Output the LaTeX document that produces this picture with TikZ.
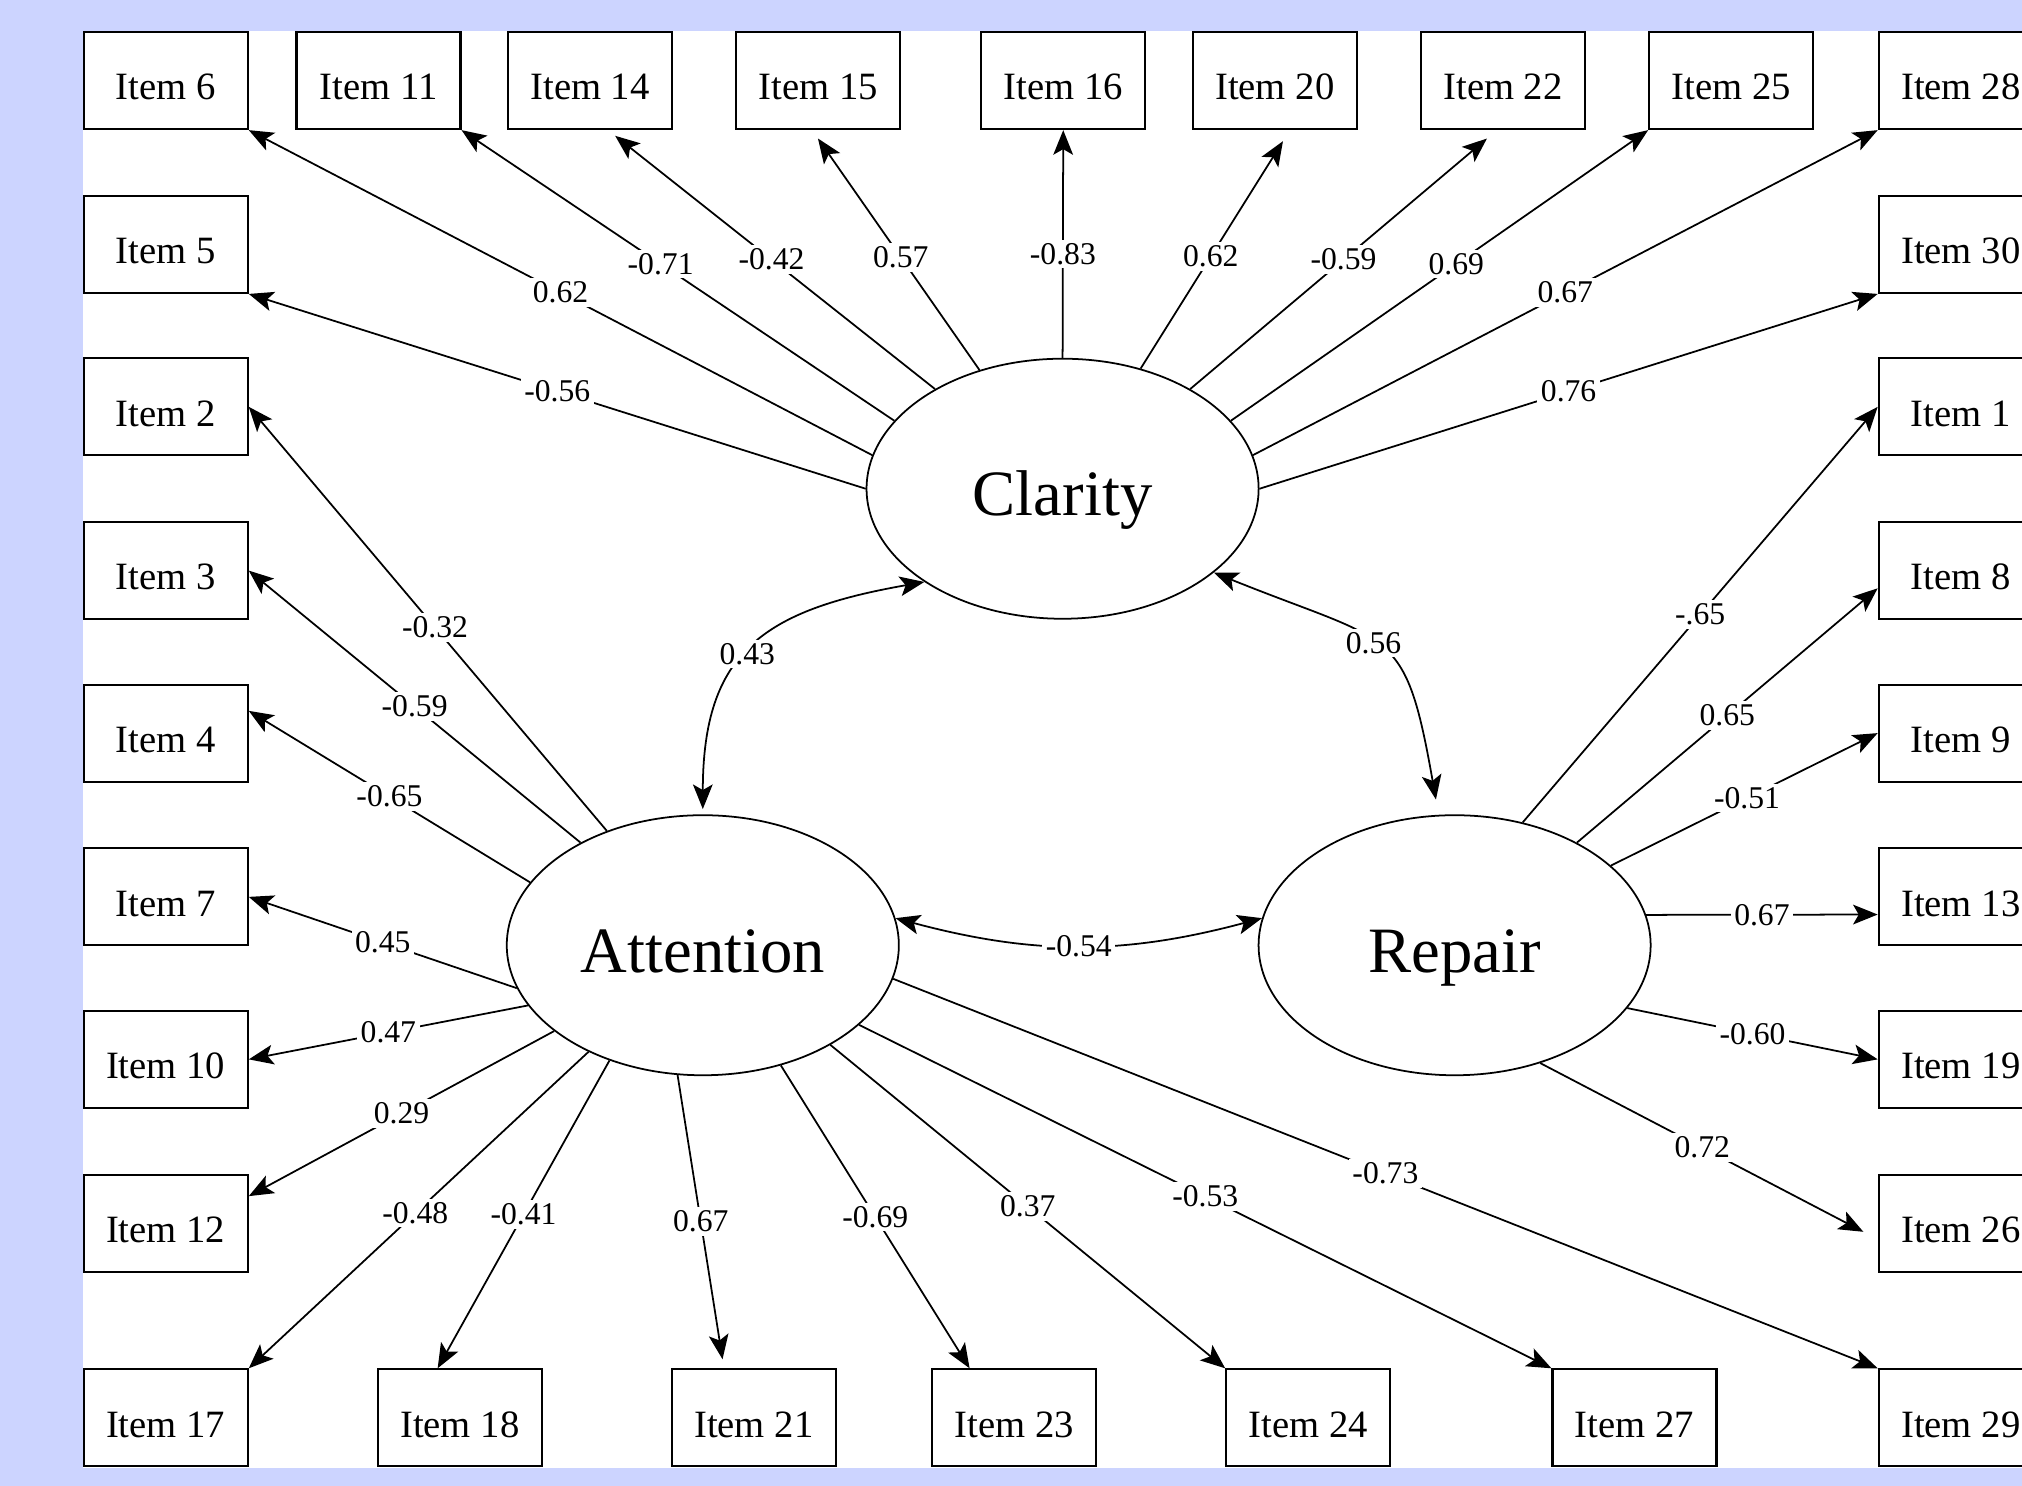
\documentclass[tikz,border=0pt]{standalone}
\usepackage{fontspec}
\setmainfont{Liberation Serif}
\usetikzlibrary{arrows.meta,shapes.geometric}
\definecolor{FrameBlue}{RGB}{204,212,255}

\begin{document}
\begin{tikzpicture}[x=0.012895cm, y=-0.012895cm, >={Stealth[length=7pt,width=5.6pt,inset=1.6pt]}]
    \tikzstyle{obs}=[draw, line width=0.6pt, minimum width=1.64cm, minimum height=0.97cm, inner sep=0pt, text height=11pt, text depth=0pt, font=\fontsize{11}{13}\selectfont]
    \tikzstyle{lat}=[draw, ellipse, line width=0.5pt, minimum width=3.92cm, minimum height=2.6cm, inner sep=0pt, text height=15.5pt, text depth=0pt, font=\fontsize{18.4}{22}\selectfont]
    \tikzstyle{coef}=[fill=white, inner sep=1pt, font=\fontsize{9}{10}\selectfont]
    \tikzstyle{ld}=[->, line width=0.5pt]
    \tikzstyle{cv}=[<->, line width=0.5pt]

    \useasboundingbox (0,0) rectangle (1568,1152);
    \clip (0,0) rectangle (1568,1152);
    \fill[FrameBlue] (0,0) rectangle (1568,1152);
    \fill[white] (64,24) rectangle (1568,1138);

    % latent factors
    \node[lat] (cla) at (824,379) {Clarity};
    \node[lat] (att) at (545,733) {Attention};
    \node[lat] (rep) at (1128,733) {Repair};

    % top row
    \node[obs] (i6) at (128.5,62.5) {Item 6};
    \node[obs] (i11) at (293.5,62.5) {Item 11};
    \node[obs] (i14) at (457.5,62.5) {Item 14};
    \node[obs] (i15) at (634.5,62.5) {Item 15};
    \node[obs] (i16) at (824.5,62.5) {Item 16};
    \node[obs] (i20) at (988.5,62.5) {Item 20};
    \node[obs] (i22) at (1165.5,62.5) {Item 22};
    \node[obs] (i25) at (1342.5,62.5) {Item 25};
    \node[obs] (i28) at (1520.5,62.5) {Item 28};

    % left column
    \node[obs] (i5) at (128.5,189.5) {Item 5};
    \node[obs] (i2) at (128.5,315.5) {Item 2};
    \node[obs] (i3) at (128.5,442.5) {Item 3};
    \node[obs] (i4) at (128.5,568.5) {Item 4};
    \node[obs] (i7) at (128.5,695.5) {Item 7};
    \node[obs] (i10) at (128.5,821.5) {Item 10};
    \node[obs] (i12) at (128.5,948.5) {Item 12};
    \node[obs] (i17) at (128.5,1099.5) {Item 17};

    % right column
    \node[obs] (i30) at (1520.5,189.5) {Item 30};
    \node[obs] (i1) at (1520.5,315.5) {Item 1};
    \node[obs] (i8) at (1520.5,442.5) {Item 8};
    \node[obs] (i9) at (1520.5,568.5) {Item 9};
    \node[obs] (i13) at (1520.5,695.5) {Item 13};
    \node[obs] (i19) at (1520.5,821.5) {Item 19};
    \node[obs] (i26) at (1520.5,948.5) {Item 26};
    \node[obs] (i29) at (1520.5,1099.5) {Item 29};

    % bottom row
    \node[obs] (i18) at (356.5,1099.5) {Item 18};
    \node[obs] (i21) at (584.5,1099.5) {Item 21};
    \node[obs] (i23) at (786.5,1099.5) {Item 23};
    \node[obs] (i24) at (1014.5,1099.5) {Item 24};
    \node[obs] (i27) at (1267.5,1099.5) {Item 27};

    % Clarity loadings
    \draw[ld] (cla.170) -- node[coef] {0.62} (i6.south east);
    \draw[ld] (cla.180) -- node[coef] {-0.56} (i5.south east);
    \draw[ld] (cla.158) -- node[coef, pos=0.54] {-0.71} (i11.south east);
    \draw[ld, shorten >=2.6pt] (cla.142) -- node[coef] {-0.42} (i14.-70);
    \draw[ld, shorten >=2.9pt] (cla.125.5) -- node[coef, pos=0.47] {0.57} (i15.-97);
    \draw[ld] (cla.90) -- node[coef, pos=0.455] {-0.83} (i16.south);
    \draw[ld, shorten >=3.7pt] (cla.57) -- node[coef, pos=0.47] {0.62} (i20.-73);
    \draw[ld, shorten >=3.7pt] (cla.38) -- node[coef] {-0.59} (i22.-97);
    \draw[ld] (cla.22) -- node[coef, pos=0.54] {0.69} (i25.south west);
    \draw[ld] (cla.10) -- node[coef] {0.67} (i28.south west);
    \draw[ld] (cla.0) -- node[coef] {0.76} (i30.south west);

    % Attention loadings
    \draw[ld] (att.130) -- node[coef, pos=0.48] {-0.32} (i2.east);
    \draw[ld] (att.140) -- node[coef] {-0.59} (i3.east);
    \draw[ld] (att.160) -- node[coef] {-0.65} (i4.15);
    \draw[ld] (att.193) -- node[coef] {0.45} (i7.east);
    \draw[ld] (att.199) -- node[coef] {0.47} (i10.east);
    \draw[ld] (att.210) -- node[coef] {0.29} (i12.18);
    \draw[ld] (att.223) -- node[coef, pos=0.51] {-0.48} (i17.north east);
    \draw[ld] (att.231) -- node[coef] {-0.41} (i18.114);
    \draw[ld, shorten >=2.6pt] (att.259) -- node[coef] {0.67} (i21.121);
    \draw[ld] (att.303) -- node[coef] {-0.69} (i23.132);
    \draw[ld] (att.322) -- node[coef] {0.37} (i24.north west);
    \draw[ld] (att.333) -- node[coef] {-0.53} (i27.north west);
    \draw[ld] (att.350) -- node[coef] {-0.73} (i29.north west);

    % Repair loadings
    \draw[ld] (rep.61) -- node[coef] {-.65} (i1.west);
    \draw[ld] (rep.40) -- node[coef] {0.65} (i8.192);
    \draw[ld] (rep.27) -- node[coef, pos=0.51] {-0.51} (i9.west);
    \draw[ld] (rep.9) -- node[coef] {0.67} (i13.192);
    \draw[ld] (rep.-20) -- node[coef] {-0.60} (i19.west);
    \draw[ld, shorten >=4.6pt] (rep.-54) -- node[coef, pos=0.48] {0.72} (i26.191);

    % factor covariances
    \draw[cv, shorten <=1.5pt] (att.90) to[out=90, in=190, looseness=1.3] node[coef, pos=0.47] {0.43} (cla.214);
    \draw[cv, shorten >=4.4pt] (cla.-29) to[out=-22, in=100, looseness=1.5] node[coef, pos=0.46] {0.56} (rep.97);
    \draw[cv] (att.8) to[out=-15, in=195] node[coef] {-0.54} (rep.172);
\end{tikzpicture}
\end{document}
